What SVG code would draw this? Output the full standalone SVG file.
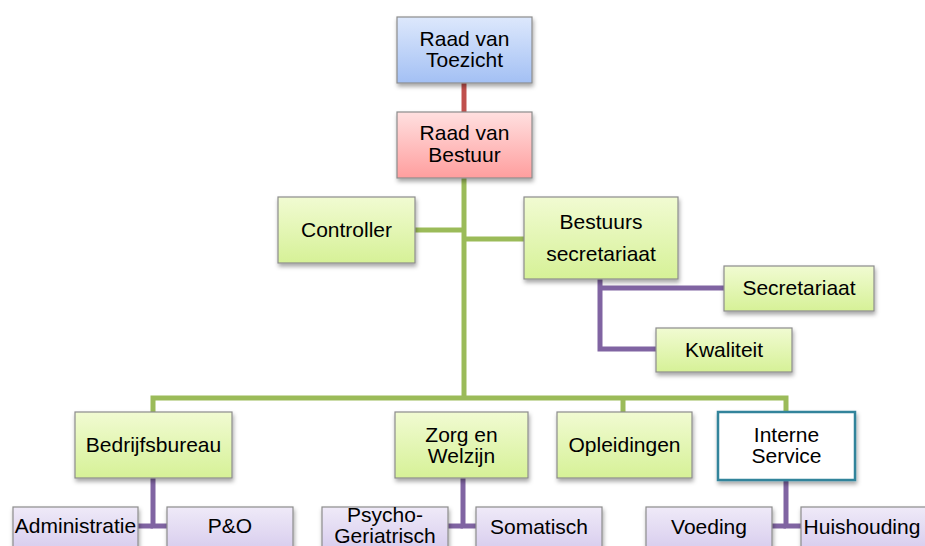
<svg xmlns="http://www.w3.org/2000/svg" width="925" height="546" viewBox="0 0 925 546">
<defs>
<linearGradient id="gBlue" x1="0" y1="0" x2="0" y2="1"><stop offset="0" stop-color="#dde8fc"/><stop offset="1" stop-color="#a3c0f4"/></linearGradient>
<linearGradient id="gRed" x1="0" y1="0" x2="0" y2="1"><stop offset="0" stop-color="#ffe0e0"/><stop offset="1" stop-color="#ff9e9e"/></linearGradient>
<linearGradient id="gGreen" x1="0" y1="0" x2="0" y2="1"><stop offset="0" stop-color="#f1fbd2"/><stop offset="1" stop-color="#d6f197"/></linearGradient>
<linearGradient id="gPurple" x1="0" y1="0" x2="0" y2="1"><stop offset="0" stop-color="#efeaf8"/><stop offset="1" stop-color="#d4c8ec"/></linearGradient>
<filter id="sh" x="-10%" y="-10%" width="130%" height="140%"><feDropShadow dx="1" dy="3" stdDeviation="2" flood-color="#000" flood-opacity="0.35"/></filter>
</defs>
<style>
.box{stroke:#8c8c8c;stroke-width:1.2;filter:url(#sh)}
.b{fill:url(#gBlue)}.r{fill:url(#gRed)}.g{fill:url(#gGreen)}.p{fill:url(#gPurple)}
.w{fill:#ffffff;stroke:#31849b;stroke-width:2.5;filter:url(#sh)}
text{font-family:"Liberation Sans",Arial,sans-serif;font-size:21px;fill:#000;text-anchor:middle}
.cr{stroke:#c0504d;stroke-width:5;fill:none}
.cg{stroke:#9bbb59;stroke-width:5;fill:none}
.cp{stroke:#8064a2;stroke-width:5;fill:none}
</style>
<g id="connectors">
<path class="cr" d="M464,83 V112"/>
<path class="cg" d="M464,178 V399"/>
<path class="cg" d="M415,230 H464"/>
<path class="cg" d="M464,239 H524"/>
<path class="cg" d="M153,412 V398 H786 V412"/>
<path class="cg" d="M623,398 V412"/>
<path class="cp" d="M600,279 V349 H656"/>
<path class="cp" d="M600,288 H724"/>
<path class="cp" d="M153,478 V526 H167"/>
<path class="cp" d="M138,526 H153"/>
<path class="cp" d="M463,478 V526 H476"/>
<path class="cp" d="M448,526 H463"/>
<path class="cp" d="M786,480 V526 H801"/>
<path class="cp" d="M772,526 H786"/>
</g>
<g id="raad-van-toezicht"><rect class="box b" x="397" y="17" width="135" height="66"/><text x="464.5" y="46">Raad van</text><text x="464.5" y="67">Toezicht</text></g>
<g id="raad-van-bestuur"><rect class="box r" x="397" y="112" width="135" height="66"/><text x="464.5" y="140">Raad van</text><text x="464.5" y="162">Bestuur</text></g>
<g id="controller"><rect class="box g" x="278" y="197" width="137" height="66"/><text x="346.5" y="237">Controller</text></g>
<g id="bestuurs-secretariaat"><rect class="box g" x="524" y="197" width="154" height="82"/><text x="601" y="229">Bestuurs</text><text x="601" y="261">secretariaat</text></g>
<g id="secretariaat"><rect class="box g" x="724" y="266" width="150" height="45"/><text x="799" y="295">Secretariaat</text></g>
<g id="kwaliteit"><rect class="box g" x="656" y="328" width="136" height="44"/><text x="724" y="357">Kwaliteit</text></g>
<g id="bedrijfsbureau"><rect class="box g" x="75" y="412" width="157" height="66"/><text x="153.5" y="452">Bedrijfsbureau</text></g>
<g id="zorg-en-welzijn"><rect class="box g" x="395" y="412" width="133" height="66"/><text x="461.5" y="442">Zorg en</text><text x="461.5" y="463">Welzijn</text></g>
<g id="opleidingen"><rect class="box g" x="557" y="412" width="135" height="66"/><text x="624.5" y="452">Opleidingen</text></g>
<g id="interne-service"><rect class="w" x="718" y="412" width="137" height="68"/><text x="786.5" y="442">Interne</text><text x="786.5" y="463">Service</text></g>
<g id="administratie"><rect class="box p" x="13" y="507" width="125" height="50"/><text x="75.5" y="533">Administratie</text></g>
<g id="p-en-o"><rect class="box p" x="167" y="507" width="126" height="50"/><text x="230" y="533">P&amp;O</text></g>
<g id="psycho-geriatrisch"><rect class="box p" x="322" y="507" width="126" height="50"/><text x="385" y="522">Psycho-</text><text x="385" y="543">Geriatrisch</text></g>
<g id="somatisch"><rect class="box p" x="476" y="507" width="126" height="50"/><text x="539" y="534">Somatisch</text></g>
<g id="voeding"><rect class="box p" x="646" y="507" width="126" height="50"/><text x="709" y="534">Voeding</text></g>
<g id="huishouding"><rect class="box p" x="801" y="507" width="126" height="50"/><text x="862" y="534">Huishouding</text></g>
</svg>
